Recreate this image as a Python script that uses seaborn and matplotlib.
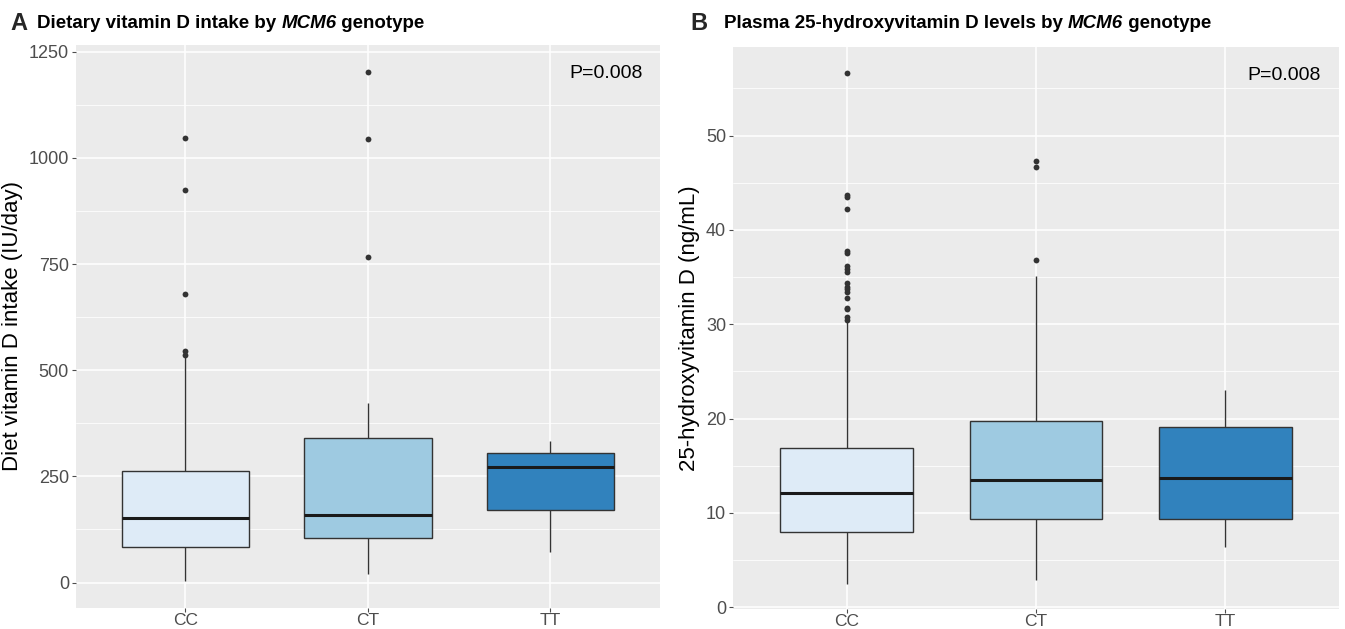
import numpy as np
import pandas as pd
import matplotlib
matplotlib.use("Agg")
import matplotlib.pyplot as plt
import seaborn as sns

# =============================================================================
# Data
# =============================================================================
genotypes = ["CC", "CT", "TT"]
box_colors = ["#DEEBF7", "#9ECAE1", "#3182BD"]

# Panel A: dietary vitamin D intake (IU/day) -> [whisker low, Q1, median, Q3, whisker high]
diet_stats = {
    "CC": [3, 83, 151, 262, 533],
    "CT": [20, 105, 160, 340, 423],
    "TT": [71, 171, 271, 304, 334],
}
diet_outliers_cc = [537, 546, 679, 924, 1046]
diet_outliers_ct = [767, 1045, 1203]
diet_outliers_tt = []

# Panel B: plasma 25-hydroxyvitamin D (ng/mL)
plasma_stats = {
    "CC": [2.5, 8.0, 12.1, 16.9, 30.3],
    "CT": [2.9, 9.3, 13.5, 19.7, 35.1],
    "TT": [6.4, 9.3, 13.7, 19.1, 23.0],
}
plasma_outliers_cc = [30.5, 30.75, 31.6, 31.7, 32.8, 33.4, 33.7, 33.9, 34.4,
                      35.5, 35.9, 36.2, 37.5, 37.8, 42.2, 43.5, 43.7, 56.6]
plasma_outliers_ct = [36.8, 46.7, 47.3]
plasma_outliers_tt = []

p_value_text = "P=0.008"


def long_frames(stats, outliers):
    box_df = pd.DataFrame(
        [(g, v) for g in genotypes for v in stats[g]], columns=["genotype", "value"]
    )
    out_df = pd.DataFrame(
        [(g, v) for g, vals in zip(genotypes, outliers) for v in vals],
        columns=["genotype", "value"],
    )
    return box_df, out_df


diet_box, diet_out = long_frames(
    diet_stats, [diet_outliers_cc, diet_outliers_ct, diet_outliers_tt])
plasma_box, plasma_out = long_frames(
    plasma_stats, [plasma_outliers_cc, plasma_outliers_ct, plasma_outliers_tt])

# =============================================================================
# Style (ggplot-like grey panel)
# =============================================================================
sns.set_theme(style="darkgrid", rc={
    "axes.facecolor": "#EBEBEB",
    "grid.color": "white",
    "axes.edgecolor": "#EBEBEB",
})
plt.rcParams["font.family"] = ["Liberation Sans", "DejaVu Sans"]

fig = plt.figure(figsize=(13.45, 6.29), dpi=100)
ax_a = fig.add_axes([0.0565, 0.0334, 0.4342, 0.8951])
ax_b = fig.add_axes([0.5450, 0.0318, 0.4506, 0.8935])


def draw_panel(ax, box_df, out_df, ylim, major, minor, ylabel):
    sns.boxplot(
        data=box_df, x="genotype", y="value", hue="genotype", order=genotypes,
        hue_order=genotypes, palette=box_colors, saturation=1, whis=(0, 100),
        width=0.7, showfliers=False, showcaps=False, linecolor="#333333",
        linewidth=1.0, medianprops={"color": "#1A1A1A", "linewidth": 2.2},
        legend=False, ax=ax, zorder=3,
    )
    sns.stripplot(
        data=out_df, x="genotype", y="value", order=genotypes, jitter=False,
        color="#333333", size=4.2, linewidth=0, ax=ax, zorder=4,
    )
    ax.set_xlim(-0.6, 2.6)
    ax.set_ylim(*ylim)
    ax.set_yticks(major)
    ax.set_yticks(minor, minor=True)
    ax.grid(which="major", color="white", linewidth=1.1)
    ax.grid(which="minor", axis="y", color="white", linewidth=0.55)
    ax.set_axisbelow(True)
    ax.set_xlabel("")
    ax.set_ylabel(ylabel, fontsize=16, color="black", labelpad=4)
    ax.tick_params(axis="both", which="major", labelsize=13, labelcolor="#4D4D4D",
                   length=3, width=0.8, color="#4D4D4D", pad=2,
                   bottom=True, left=True)
    ax.tick_params(axis="x", which="major", labelsize=12.5, pad=0.5)
    ax.tick_params(which="minor", length=0)
    for sp in ax.spines.values():
        sp.set_visible(False)
    ax.text(0.97, 0.965, p_value_text, transform=ax.transAxes, ha="right",
            va="top", fontsize=14, color="black")


draw_panel(ax_a, diet_box, diet_out, (-60, 1266),
           [0, 250, 500, 750, 1000, 1250], [125, 375, 625, 875, 1125],
           "Diet vitamin D intake (IU/day)")
draw_panel(ax_b, plasma_box, plasma_out, (-0.2, 59.4),
           [0, 10, 20, 30, 40, 50], [5, 15, 25, 35, 45, 55],
           "25-hydroxyvitamin D (ng/mL)")


# Titles with an italic gene name, built piece by piece
def rich_title(x_px, y_px, parts, size=13.5):
    renderer = fig.canvas.get_renderer()
    x = x_px
    for txt, style in parts:
        t = fig.text(x / fig.bbox.width, 1 - y_px / fig.bbox.height, txt,
                     fontsize=size, fontweight="bold", fontstyle=style,
                     va="baseline", ha="left", color="black")
        x += t.get_window_extent(renderer).width


fig.text(10 / 1345, 1 - 30 / 629, "A", fontsize=17, fontweight="bold", va="baseline")
fig.text(690 / 1345, 1 - 30 / 629, "B", fontsize=17, fontweight="bold", va="baseline")
rich_title(37, 28, [("Dietary vitamin D intake by ", "normal"), ("MCM6", "italic"),
                    (" genotype", "normal")])
rich_title(724, 28, [("Plasma 25-hydroxyvitamin D levels by ", "normal"),
                     ("MCM6", "italic"), (" genotype", "normal")])

fig.savefig("out.png", dpi=100, facecolor="white")
